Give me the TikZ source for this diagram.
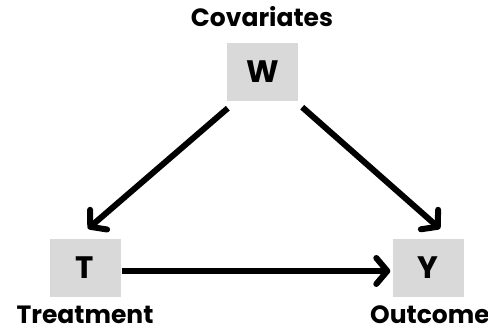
\documentclass[tikz,border=0pt]{standalone}
\usepackage{fontspec}
\setmainfont{Poppins}[BoldFont={* Bold}]
\usetikzlibrary{arrows.meta}
\begin{document}
\begin{tikzpicture}[x=1pt,y=1pt,
  varbox/.style={fill=black!15, minimum width=71pt, minimum height=58pt, inner sep=0pt, font=\fontsize{31}{31}\selectfont\bfseries},
  lbl/.style={font=\fontsize{25}{25}\selectfont\bfseries, inner sep=0pt, anchor=base},
  arr/.style={line width=6pt, -{Straight Barb[length=11pt,width=26pt,line cap=round,line join=round]}}]
\useasboundingbox (0,0) rectangle (488,328);
\node[varbox] (W) at (262.5,256) {W};
\node[varbox] (T) at (85,60) {T};
\node[varbox] (Y) at (428,60) {Y};
\node[lbl] (lw) at (262,301) {Covariates};
\node[lbl] (lt) at (85,4) {Treatment};
\node[lbl] (ly) at (430,4) {Outcome};
\draw[arr] ([shift={(1,-7)}]W.south west) -- ([shift={(3,10)}]T.north);
\draw[arr] ([shift={(4,-6)}]W.south east) -- ([shift={(12,10)}]Y.north);
\draw[arr] ([shift={(1,-3)}]T.east) -- ([shift={(-2,-3)}]Y.west);
\end{tikzpicture}
\end{document}
